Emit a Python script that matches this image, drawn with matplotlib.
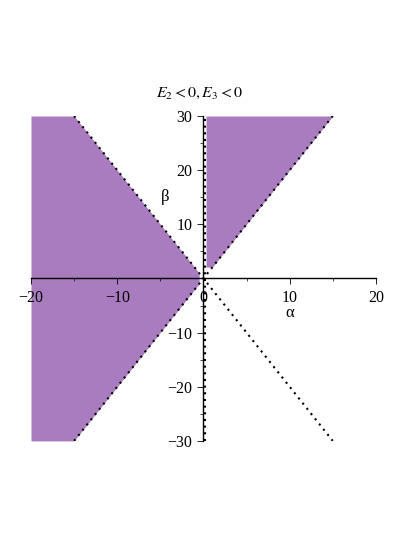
import numpy as np
import matplotlib.pyplot as plt

plt.rcParams['font.family'] = ['Liberation Serif', 'DejaVu Serif']
plt.rcParams['mathtext.fontset'] = 'stix'

# region boundaries
slope = 2.0          # boundary lines beta = +-2 alpha
x_left = [-20, -15, -0.5]
x_right = [0.3, 15]
y_top, y_bot = 30, -30
line_x = [-15, 15]
xticks = [-20, -10, 0, 10, 20]
yticks = [-30, -20, -10, 10, 20, 30]
fill_color = '#a97bbf'

fig = plt.figure(figsize=(4.15, 5.37), dpi=100)
ax = fig.add_axes([0.0747, 0.179, 0.831, 0.605])

# left shaded region: |beta| < -2 alpha
xl = np.linspace(x_left[0], x_left[2], 400)
upper = np.minimum(-slope * xl, y_top)
lower = np.maximum(slope * xl, y_bot)
ax.fill_between(xl, lower, upper, color=fill_color, linewidth=0)

# right shaded region: beta > 2 alpha
xr = np.linspace(x_right[0], x_right[1], 400)
ax.fill_between(xr, np.maximum(slope * xr, 2 * x_right[0] + 1.5), y_top,
                color=fill_color, linewidth=0)

# dotted boundary lines
lx = np.array(line_x)
ax.plot(lx, -slope * lx, color='black', linestyle=(0, (1, 2.2)), linewidth=1.5)
ax.plot(lx, slope * lx, color='black', linestyle=(0, (1, 2.2)), linewidth=1.5)
ax.plot([0.15, 0.15], [y_bot, y_top], color='black', linestyle=(0, (1, 2.2)), linewidth=1.5)

ax.set_xlim(-20, 20)
ax.set_ylim(-30, 30)
for s in ['top', 'right']:
    ax.spines[s].set_visible(False)
ax.spines['left'].set_position('zero')
ax.spines['bottom'].set_position('zero')
ax.spines['left'].set_linewidth(1.0)
ax.spines['bottom'].set_linewidth(1.0)
ax.set_xticks(xticks)
ax.set_xticklabels(['\u221220', '\u221210', '0', '10', '20'])
ax.set_yticks(yticks)
ax.set_yticklabels(['\u221230', '\u221220', '\u221210', '10', '20', '30'])
ax.set_xticks([-15, -5, 5, 15], minor=True)
ax.set_yticks([-25, -15, -5, 5, 15, 25], minor=True)
ax.tick_params(which='major', length=4, width=0.6, labelsize=11.5, pad=4)
ax.tick_params(which='minor', length=2, width=0.5)
ax.set_facecolor('none')

ax.text(-4.5, 15, '\u03b2', fontsize=12, ha='center', va='center')
ax.text(10, -6.3, '\u03b1', fontsize=12, ha='center', va='center')
fig.text(0.48, 0.827, r'$E_2 < 0, E_3 < 0$', fontsize=11.5, ha='center', va='center')

fig.savefig('out.png', dpi=100)
